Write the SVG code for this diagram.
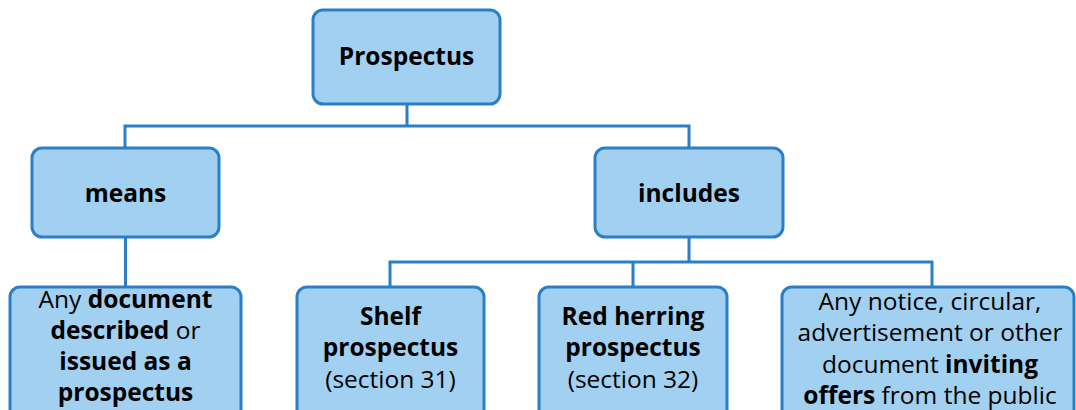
<svg xmlns="http://www.w3.org/2000/svg" width="1076" height="410" viewBox="0 0 1076 410">
<style>
.box{fill:#a1d0f0;stroke:#2a7fc6;stroke-width:3}
.t{font-family:"Open Sans","Noto Sans",sans-serif;font-size:24.5px;fill:#000;text-anchor:middle}
.b{font-weight:bold}
.c{stroke:#2a7fc6;stroke-width:3;fill:none}
</style>
<rect width="1076" height="410" fill="#fff"/>
<g id="connectors">
<path class="c" d="M407 104V126M125 147V126H689V147"/>
<path class="c" d="M125.5 237V287"/>
<path class="c" d="M689 237V262M390 287V262H932V287M633 262V287"/>
</g>
<g id="prospectus">
<rect class="box" x="313" y="10" width="187" height="94" rx="10"/>
<text class="t b" x="406.5" y="65">Prospectus</text>
</g>
<g id="means">
<rect class="box" x="32" y="148" width="187" height="89" rx="10"/>
<text class="t b" x="125.5" y="202">means</text>
</g>
<g id="includes">
<rect class="box" x="595" y="148" width="188" height="89" rx="10"/>
<text class="t b" x="689" y="202">includes</text>
</g>
<g id="any-document">
<rect class="box" x="10" y="287" width="231" height="135" rx="10"/>
<text class="t" x="125.5" y="308">Any <tspan class="b">document</tspan></text>
<text class="t" x="125.5" y="339"><tspan class="b">described</tspan> or</text>
<text class="t b" x="125.5" y="370">issued as a</text>
<text class="t b" x="125.5" y="401">prospectus</text>
</g>
<g id="shelf">
<rect class="box" x="297" y="287" width="187" height="135" rx="10"/>
<text class="t b" x="390.5" y="325">Shelf</text>
<text class="t b" x="390.5" y="356">prospectus</text>
<text class="t" x="390.5" y="388">(section 31)</text>
</g>
<g id="red-herring">
<rect class="box" x="539" y="287" width="188" height="135" rx="10"/>
<text class="t b" x="633" y="325">Red herring</text>
<text class="t b" x="633" y="356">prospectus</text>
<text class="t" x="633" y="388">(section 32)</text>
</g>
<g id="any-notice">
<rect class="box" x="782" y="287" width="292" height="135" rx="10"/>
<text class="t" x="930" y="310">Any notice, circular,</text>
<text class="t" x="930" y="341">advertisement or other</text>
<text class="t" x="930" y="373">document <tspan class="b">inviting</tspan></text>
<text class="t" x="930" y="404"><tspan class="b">offers</tspan> from the public</text>
</g>
</svg>
